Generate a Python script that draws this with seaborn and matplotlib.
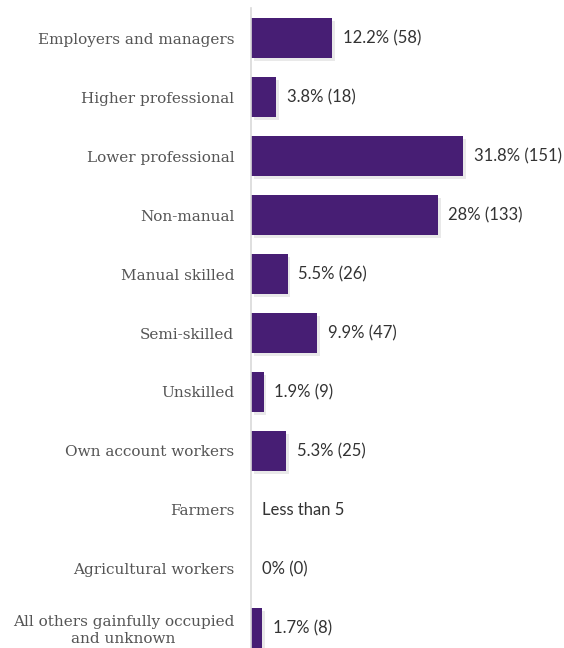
import matplotlib
matplotlib.use("Agg")
import matplotlib.pyplot as plt
import matplotlib.patheffects as pe
import seaborn as sns
import pandas as pd

categories = ["Employers and managers", "Higher professional", "Lower professional",
              "Non-manual", "Manual skilled", "Semi-skilled", "Unskilled",
              "Own account workers", "Farmers", "Agricultural workers",
              "All others gainfully occupied\nand unknown"]
percent = [12.2, 3.8, 31.8, 28, 5.5, 9.9, 1.9, 5.3, 0, 0, 1.7]
labels = ["12.2% (58)", "3.8% (18)", "31.8% (151)", "28% (133)", "5.5% (26)",
          "9.9% (47)", "1.9% (9)", "5.3% (25)", "Less than 5", "0% (0)", "1.7% (8)"]

df = pd.DataFrame({"cat": categories, "pct": percent})

sns.set_style("white")
fig = plt.figure(figsize=(5.64, 6.48), dpi=100)
ax = fig.add_axes([251 / 564, 0, 1 - 251 / 564, 640 / 648])

sns.barplot(data=df, x="pct", y="cat", orient="h", color="#471E74",
            saturation=1, width=0.68, linewidth=0, ax=ax)

for p in ax.patches:
    p.set_path_effects([pe.SimplePatchShadow(offset=(2, -2), shadow_rgbFace="#aaaaaa", alpha=0.25),
                        pe.Normal()])

for i, (v, lab) in enumerate(zip(percent, labels)):
    ax.text(v + 1.6, i, lab, va="center", ha="left", fontsize=12,
            family=["Lato", "DejaVu Sans"], color="#333333")

ax.set_xlim(0, 313 / 6.67)
ax.set_ylim(10.34, -0.51)
ax.set_xlabel("")
ax.set_ylabel("")
ax.set_xticks([])
ax.tick_params(axis="y", length=0, pad=12)
for t in ax.get_yticklabels():
    t.set_fontfamily("DejaVu Serif")
    t.set_fontsize(11)
    t.set_color("#555555")
    t.set_multialignment("center")

for s in ["top", "right", "bottom"]:
    ax.spines[s].set_visible(False)
ax.spines["left"].set_color("#d9d9d9")
ax.spines["left"].set_linewidth(1.2)

fig.savefig("out.png", dpi=100)
